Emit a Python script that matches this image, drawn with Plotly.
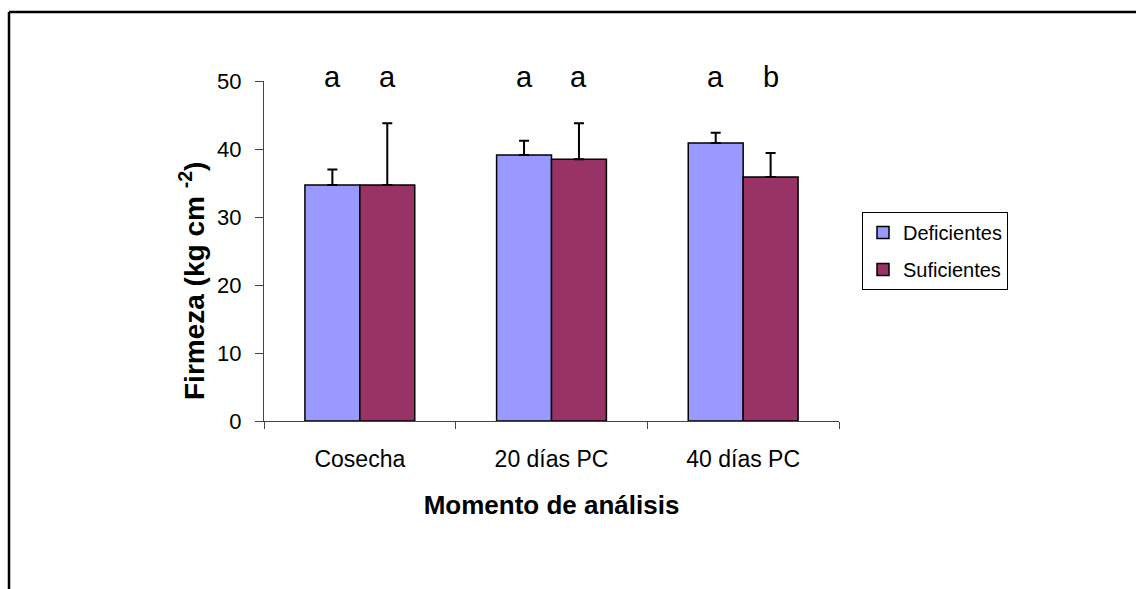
import plotly.graph_objects as go

# Firmness of fruit at each sampling moment, by nutritional status
momentos = ["Cosecha", "20 días PC", "40 días PC"]
deficientes = [34.7, 39.1, 40.9]
deficientes_err = [2.3, 2.1, 1.5]
suficientes = [34.7, 38.5, 35.9]
suficientes_err = [9.1, 5.3, 3.5]
letras_def = ["a", "a", "a"]
letras_suf = ["a", "a", "b"]

FONT = "Liberation Sans, Arial, sans-serif"
W, H = 1136, 589
ML, MR, MT, MB = 264, 297, 81, 168
PW, PH = W - ML - MR, H - MT - MB
BARGAP = 0.427


def px_x(p):
    return (p - ML) / PW


def px_y(p):
    return (H - MB - p) / PH


fig = go.Figure()
fig.add_trace(go.Bar(
    name="Deficientes", x=momentos, y=deficientes, legendgroup="def",
    marker=dict(color="#9999FF", line=dict(color="black", width=1.5)),
    error_y=dict(type="data", symmetric=False, array=deficientes_err,
                 arrayminus=[0] * len(deficientes), color="black",
                 thickness=2, width=5),
))
fig.add_trace(go.Bar(
    name="Suficientes", x=momentos, y=suficientes, legendgroup="suf",
    marker=dict(color="#993366", line=dict(color="black", width=1.5)),
    error_y=dict(type="data", symmetric=False, array=suficientes_err,
                 arrayminus=[0] * len(suficientes), color="black",
                 thickness=2, width=5),
))

# significance letters above each bar
half = (1 - BARGAP) / 4
for i in range(len(momentos)):
    for off, txt in ((-half, letras_def[i]), (half, letras_suf[i])):
        fig.add_annotation(x=i + off, y=px_y(77), xref="x", yref="paper",
                           text=txt, showarrow=False, yanchor="middle",
                           font=dict(family=FONT, size=29, color="black"))

# outer frame (top and left edges)
fig.add_shape(type="line", xref="paper", yref="paper",
              x0=px_x(9), x1=px_x(W + 5), y0=px_y(12), y1=px_y(12),
              line=dict(color="black", width=2.5))
fig.add_shape(type="line", xref="paper", yref="paper",
              x0=px_x(9), x1=px_x(9), y0=px_y(12), y1=px_y(H + 5),
              line=dict(color="black", width=2.5))

fig.update_layout(
    width=W, height=H,
    margin=dict(l=ML, r=MR, t=MT, b=MB, autoexpand=False),
    paper_bgcolor="white", plot_bgcolor="white",
    barmode="group", bargap=BARGAP, bargroupgap=0,
    font=dict(family=FONT, color="black"),
    showlegend=True,
    legend=dict(x=px_x(862), y=px_y(212), xanchor="left", yanchor="top",
                bordercolor="black", borderwidth=1, bgcolor="white",
                font=dict(family=FONT, size=20, color="black"),
                tracegroupgap=8, itemwidth=30),
    xaxis=dict(
        showline=True, linecolor="#444", linewidth=1,
        ticks="outside", tickson="boundaries", ticklen=7, tickcolor="#444",
        ticklabelstandoff=17,
        tickfont=dict(family=FONT, size=23, color="black"),
        title=dict(text="<b>Momento de análisis</b>", standoff=25,
                   font=dict(family=FONT, size=26, color="black")),
        showgrid=False, zeroline=False,
    ),
    yaxis=dict(
        range=[0, 50], dtick=10, showline=True, linecolor="#444", linewidth=1,
        ticks="outside", ticklen=8, tickcolor="#444",
        ticklabelstandoff=9,
        tickfont=dict(family=FONT, size=22, color="black"),
        showgrid=False, zeroline=False,
    ),
)

# rotated axis title with superscript
fig.add_annotation(xref="paper", yref="paper", x=px_x(172), y=px_y(281),
                   text="<b>Firmeza (kg cm <sup>-2</sup>)</b>", textangle=-90,
                   showarrow=False,
                   font=dict(family=FONT, size=28, color="black"))

fig.write_html("out.html")
